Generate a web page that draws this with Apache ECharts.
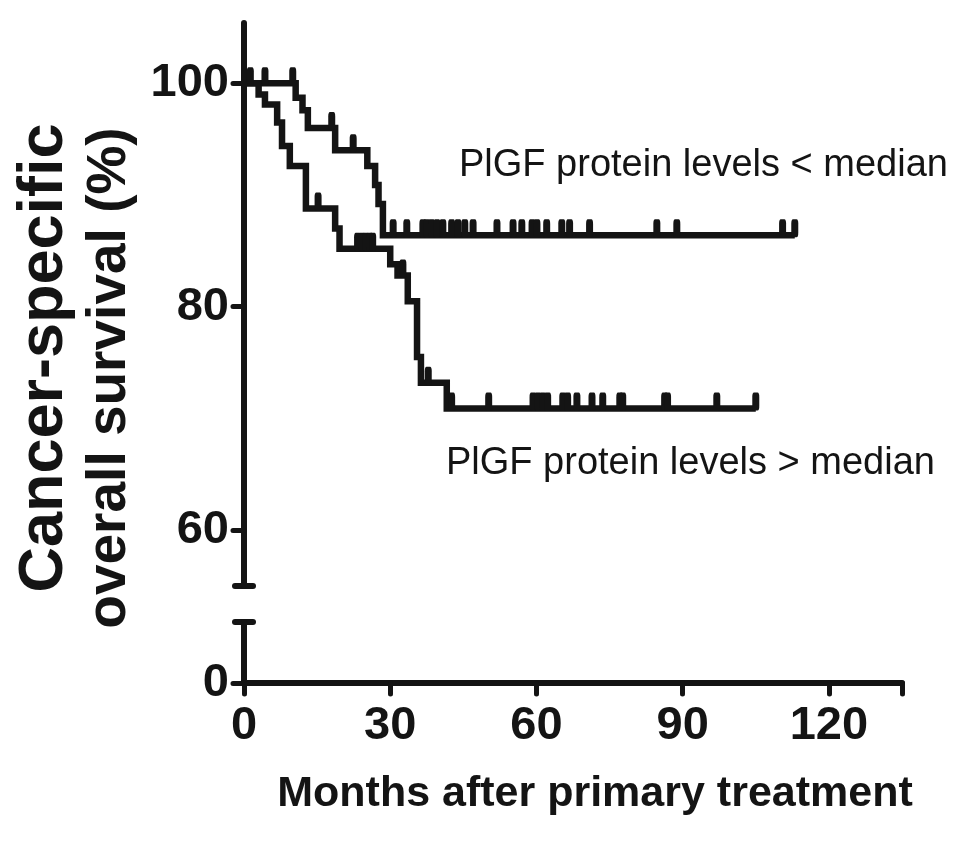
<!DOCTYPE html>
<html>
<head>
<meta charset="utf-8">
<script src="https://cdn.jsdelivr.net/npm/echarts@6/dist/echarts.min.js"></script>
<style>
  html, body { margin: 0; padding: 0; background: #ffffff; }
  #chart { width: 969px; height: 841px; }
</style>
</head>
<body>
<div id="chart"></div>
<script>
// ---- Data ----
// Group with PlGF protein levels < median (upper curve): step times (months) and survival (%)
const lowTimes = [0, 10.6, 12.0, 13.1, 18.7, 25.3, 26.9, 27.6, 28.5, 113];
const lowSurv  = [100, 98.7, 97.6, 96.0, 94.0, 92.6, 90.9, 89.2, 86.4, 86.4];
// censoring times for that group
const lowCensor = [1.3, 4.3, 10.0, 18.0, 22.4, 30.6, 33.4, 36.7, 37.5, 38.5, 39.6, 40.8, 42.6, 43.9, 45.3, 47.0,
  51.9, 55.2, 57.0, 59.1, 60.1, 62.1, 65.2, 66.8, 70.9, 84.7, 88.8, 110.5, 113.0];

// Group with PlGF protein levels > median (lower curve)
const highTimes = [0, 3.0, 4.3, 6.8, 7.8, 9.4, 12.7, 18.7, 19.6, 30.0, 31.5, 33.6, 35.5, 36.3, 41.6, 105];
const highSurv  = [100, 99.0, 98.1, 96.5, 94.4, 92.6, 88.8, 87.0, 85.2, 83.8, 82.8, 80.5, 75.5, 73.2, 70.9, 70.9];
const highCensor = [15.2, 23.3, 24.2, 25.0, 25.8, 26.4, 32.6, 37.8, 42.6, 50.2, 59.3, 60.3, 61.3, 62.3, 65.4, 66.4,
  68.3, 71.4, 73.6, 77.1, 77.7, 86.3, 86.9, 97.0, 105.0];

const xTicks = [0, 30, 60, 90, 120];
const yTicksUpper = [60, 80, 100];
const yTicksLower = [0];

const labelLow = 'PlGF protein levels < median';
const labelHigh = 'PlGF protein levels > median';
const yTitle1 = 'Cancer-specific';
const yTitle2 = 'overall survival (%)';
const xTitle = 'Months after primary treatment';

// ---- helpers ----
function pairs(t, s) { return t.map((v, i) => [v, s[i]]); }
function survAt(t, times, surv) {
  let v = surv[0];
  for (let i = 0; i < times.length; i++) { if (times[i] <= t) v = surv[i]; }
  return v;
}
const lowCensorPts = lowCensor.map(t => [t, survAt(t, lowTimes, lowSurv)]);
const highCensorPts = highCensor.map(t => [t, survAt(t, highTimes, highSurv)]);

const INK = '#141414';
const FONT = '"Liberation Sans", Arial, Helvetica, sans-serif';
const upperMin = 55, upperMax = 105.4;
const lowerMin = 0, lowerMax = 5.45;
const xMin = 0, xMax = 135;

const chart = echarts.init(document.getElementById('chart'), null, { renderer: 'canvas' });

const axisLineStyle = { color: INK, width: 6, cap: 'round' };
const tickStyle = { color: INK, width: 5, cap: 'round' };
const labelStyle = { color: INK, fontFamily: FONT, fontWeight: 'bold', fontSize: 47 };

const censorSeries = (data) => ({
  type: 'scatter', xAxisIndex: 0, yAxisIndex: 0, data: data,
  symbol: 'roundRect', symbolSize: [7, 18], symbolOffset: [0, -7],
  itemStyle: { color: INK, opacity: 1 }, z: 4, silent: true, clip: false
});
const curveSeries = (data) => ({
  type: 'line', xAxisIndex: 0, yAxisIndex: 0, data: data, step: 'end',
  showSymbol: false, symbol: 'none', lineStyle: { color: INK, width: 6.5, join: 'miter' },
  z: 3, silent: true, clip: false, animation: false
});

chart.setOption({
  animation: false,
  backgroundColor: '#ffffff',
  grid: [
    { left: 244, right: 67, top: 23, height: 563, containLabel: false, outerBoundsMode: 'none' },
    { left: 244, right: 67, top: 622, height: 61, containLabel: false, outerBoundsMode: 'none' }
  ],
  xAxis: [
    { gridIndex: 0, type: 'value', min: xMin, max: xMax, interval: 30, show: false },
    { gridIndex: 1, type: 'value', min: xMin, max: xMax, interval: 30,
      axisLine: { show: true, onZero: false, lineStyle: axisLineStyle },
      axisTick: { show: true, inside: false, length: 11, lineStyle: tickStyle },
      axisLabel: { ...labelStyle, margin: 20, formatter: v => (xTicks.indexOf(v) >= 0 ? String(v) : '') },
      splitLine: { show: false } }
  ],
  yAxis: [
    { gridIndex: 0, type: 'value', min: upperMin, max: upperMax,
      axisLine: { show: true, onZero: false, lineStyle: axisLineStyle },
      axisTick: { show: true, inside: false, length: 11, lineStyle: tickStyle, customValues: yTicksUpper },
      axisLabel: { ...labelStyle, margin: 15, customValues: yTicksUpper },
      splitLine: { show: false } },
    { gridIndex: 1, type: 'value', min: lowerMin, max: lowerMax, interval: 10,
      axisLine: { show: true, onZero: false, lineStyle: axisLineStyle },
      axisTick: { show: true, inside: false, length: 11, lineStyle: tickStyle, customValues: yTicksLower },
      axisLabel: { ...labelStyle, margin: 15, customValues: yTicksLower, showMaxLabel: false },
      splitLine: { show: false } }
  ],
  series: [
    curveSeries(pairs(lowTimes, lowSurv)),
    curveSeries(pairs(highTimes, highSurv)),
    censorSeries(lowCensorPts),
    censorSeries(highCensorPts)
  ]
});

// axis-break caps and texts, placed through the chart's own scales
const capLow = chart.convertToPixel({ xAxisIndex: 0, yAxisIndex: 0 }, [xMin, upperMin]);
const capHigh = chart.convertToPixel({ xAxisIndex: 1, yAxisIndex: 1 }, [xMin, lowerMax]);
const lowEnd = chart.convertToPixel({ xAxisIndex: 0, yAxisIndex: 0 }, [lowTimes[lowTimes.length - 1], lowSurv[lowSurv.length - 1]]);
const highEnd = chart.convertToPixel({ xAxisIndex: 0, yAxisIndex: 0 }, [highTimes[highTimes.length - 1], highSurv[highSurv.length - 1]]);

chart.setOption({
  graphic: [
    { type: 'line', shape: { x1: capLow[0] - 9, y1: capLow[1], x2: capLow[0] + 9, y2: capLow[1] },
      style: { stroke: INK, lineWidth: 6, lineCap: 'round' }, silent: true },
    { type: 'line', shape: { x1: capHigh[0] - 9, y1: capHigh[1], x2: capHigh[0] + 9, y2: capHigh[1] },
      style: { stroke: INK, lineWidth: 6, lineCap: 'round' }, silent: true },
    { type: 'text', left: 459, top: lowEnd[1] - 89,
      style: { text: labelLow, fill: INK, font: '38px ' + FONT } , silent: true },
    { type: 'text', left: 446, top: highEnd[1] + 36,
      style: { text: labelHigh, fill: INK, font: '38px ' + FONT }, silent: true },
    { type: 'text', x: 45, y: 358, rotation: Math.PI / 2,
      style: { text: yTitle1, fill: INK, font: 'bold 63px ' + FONT, align: 'center', verticalAlign: 'middle' },
      silent: true },
    { type: 'text', x: 110, y: 378, rotation: Math.PI / 2,
      style: { text: yTitle2, fill: INK, font: 'bold 55px ' + FONT, align: 'center', verticalAlign: 'middle' },
      silent: true },
    { type: 'text', x: 595, y: 794,
      style: { text: xTitle, fill: INK, font: 'bold 43px ' + FONT, align: 'center', verticalAlign: 'middle' },
      silent: true }
  ]
});
</script>
</body>
</html>
